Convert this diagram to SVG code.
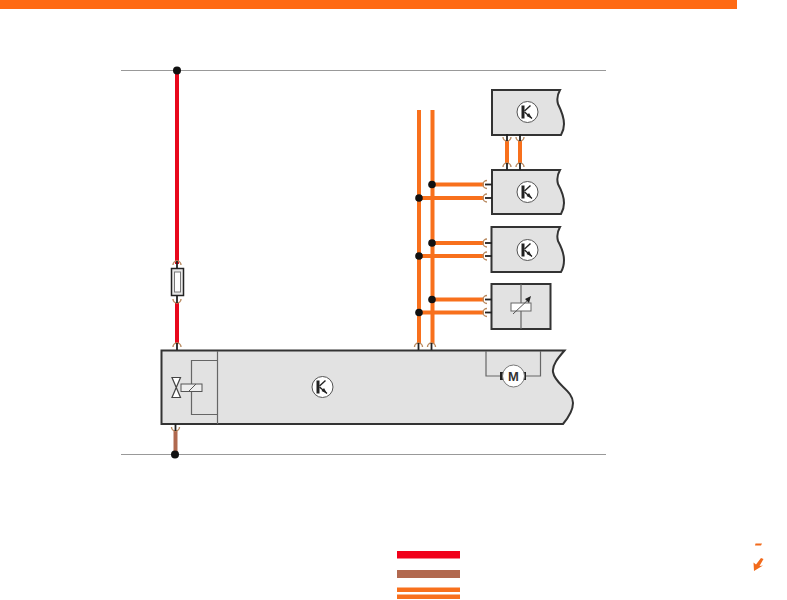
<svg xmlns="http://www.w3.org/2000/svg" xmlns:xlink="http://www.w3.org/1999/xlink" width="787" height="600" viewBox="0 0 787 600">
<style>
.box{fill:#e2e2e2;stroke:#333;stroke-width:2}
.thin{fill:none;stroke:#666;stroke-width:1.2}
.rail{stroke:#999;stroke-width:1.2;fill:none}
.or{stroke:#f8701c;stroke-width:4;fill:none}
.red{stroke:#e8071c;stroke-width:4;fill:none}
.br{stroke:#b0694f;stroke-width:4;fill:none}
.dot{fill:#111}
.arc{fill:none;stroke:#b98a60;stroke-width:1.400}
.stem{stroke:#222;stroke-width:1.800;fill:none}
</style>
<defs>
<g id="tr">
<circle cx="0" cy="0" r="10.5" fill="#fff" stroke="#555" stroke-width="1"/>
<path d="M-4.500-6.500V6.500" stroke="#222" stroke-width="3" fill="none"/>
<path d="M-3-1L3-6.500" stroke="#222" stroke-width="1.400" fill="none"/>
<path d="M-3 0L4.500 6.500" stroke="#222" stroke-width="1.400" fill="none"/>
<path d="M4.500 6.500L-1 4L1.500 1Z" fill="#222"/>
</g>
<g id="pinV"><path class="arc" d="M-4 1A4 4 0 0 1 4 1"/><path class="stem" d="M0-3V4"/></g>
<g id="pinVd"><path class="arc" d="M-4-1A4 4 0 0 0 4-1"/><path class="stem" d="M0-4V3"/></g>
<g id="pinH"><path class="arc" d="M1-4A4 4 0 0 0 1 4"/><path class="stem" d="M-1 0H6"/></g>
</defs>
<rect id="top-bar" x="0" y="0" width="737" height="9" fill="#ff6a13"/>
<g id="connectors">
<path class="rail" d="M121 70.500H606M121 454.500H606"/>
<path class="red" d="M177 71V264M177 303V344"/>
<path class="br" d="M175.500 430V454"/>
<path class="or" d="M419 110V344M432.500 110V344"/>
<path class="or" d="M507 141V163M520 141V163"/>
<path class="or" d="M432 184.500H484M419 198H484M432 243H484M419 256H484M432 299.500H484M419 312.500H484"/>
<circle class="dot" cx="177" cy="70.500" r="4"/>
<circle class="dot" cx="175" cy="454.500" r="4"/>
<g class="dot">
<circle cx="432" cy="184.500" r="3.800"/><circle cx="419" cy="198" r="3.800"/>
<circle cx="432" cy="243" r="3.800"/><circle cx="419" cy="256" r="3.800"/>
<circle cx="432" cy="299.500" r="3.800"/><circle cx="419" cy="312.500" r="3.800"/>
</g>
</g>
<g id="fuse">
<use xlink:href="#pinV" x="177" y="264"/>
<use xlink:href="#pinVd" x="177" y="300"/>
<rect x="171.500" y="268.500" width="12" height="27" fill="#e8e8e8" stroke="#222" stroke-width="1.500"/>
<rect x="174.500" y="272" width="6" height="20" fill="#fff" stroke="#777" stroke-width="1"/>
</g>
<g id="module-1">
<path class="box" d="M492 90H560Q556 97 558 104Q564 116 564 124Q564 130 561 135H492Z"/>
<use xlink:href="#tr" x="527.500" y="112"/>
<use xlink:href="#pinVd" x="507" y="138"/><use xlink:href="#pinVd" x="520" y="138"/>
</g>
<g id="module-2">
<path class="box" d="M492 170H560Q556 177 558 184Q564 195 564 203Q564 209 561 214H492Z"/>
<use xlink:href="#tr" x="527.500" y="192"/>
<use xlink:href="#pinV" x="507" y="166"/><use xlink:href="#pinV" x="520" y="166"/>
<use xlink:href="#pinH" x="486" y="184.500"/><use xlink:href="#pinH" x="486" y="198"/>
</g>
<g id="module-3">
<path class="box" d="M491.500 227H560Q556 234 558 241Q564 252 564 260Q564 267 561 272H491.500Z"/>
<use xlink:href="#tr" x="527.500" y="250"/>
<use xlink:href="#pinH" x="486" y="243"/><use xlink:href="#pinH" x="486" y="256"/>
</g>
<g id="sensor">
<rect class="box" x="491.500" y="284" width="59" height="45"/>
<path class="thin" d="M521 284V329"/>
<rect x="511" y="303" width="20" height="8" fill="#fff" stroke="#666" stroke-width="1"/>
<path d="M513 314L530 298" stroke="#555" stroke-width="1" fill="none"/>
<path d="M531 296L525 299L529 303Z" fill="#222"/>
<use xlink:href="#pinH" x="486" y="299.500"/><use xlink:href="#pinH" x="486" y="312.500"/>
</g>
<g id="control-unit">
<path class="box" d="M161.500 350.500H564.500C558 358 552 365 553 372C555 385 573 390 573 403C573 411 568 418 563 424H161.500Z"/>
<path class="thin" d="M217.500 351V424M217 360.500H191.500V414.500H217"/>
<rect x="181" y="384" width="21" height="7.500" fill="#eee" stroke="#555" stroke-width="1"/>
<path d="M188 392L196 384" stroke="#555" stroke-width="1" fill="none"/>
<path d="M172 377.500H180.500L172 397.500H180.500Z" fill="#fff" stroke="#444" stroke-width="1.200"/>
<use xlink:href="#tr" x="322.500" y="387"/>
<path class="thin" d="M486 351V376H540.500V351"/>
<rect x="500" y="372" width="26" height="8" fill="#222"/>
<circle cx="513.500" cy="376" r="11" fill="#fff" stroke="#777" stroke-width="1"/>
<text x="513.500" y="381" font-family="Liberation Sans, sans-serif" font-weight="700" font-size="13" text-anchor="middle" fill="#333">M</text>
<use xlink:href="#pinV" x="177" y="346"/>
<use xlink:href="#pinV" x="418.500" y="346"/><use xlink:href="#pinV" x="431.500" y="346"/>
<use xlink:href="#pinVd" x="175.500" y="428"/>
</g>
<g id="legend">
<rect x="397" y="551" width="63" height="7.500" fill="#f1001a"/>
<rect x="397" y="570" width="63" height="8" fill="#b2694f"/>
<rect x="397" y="587.500" width="63" height="4.500" fill="#f8701c"/>
<rect x="397" y="594.500" width="63" height="4.500" fill="#f8701c"/>
</g>
<g id="corner-mark" fill="#f26a1b">
<path d="M755.500 543.500H762L761 545.500H755Z"/>
<path d="M761 558L763.500 559L759.500 566L763 565.500L754 571L753.500 562.500L756 564.500Z"/>
</g>
</svg>
